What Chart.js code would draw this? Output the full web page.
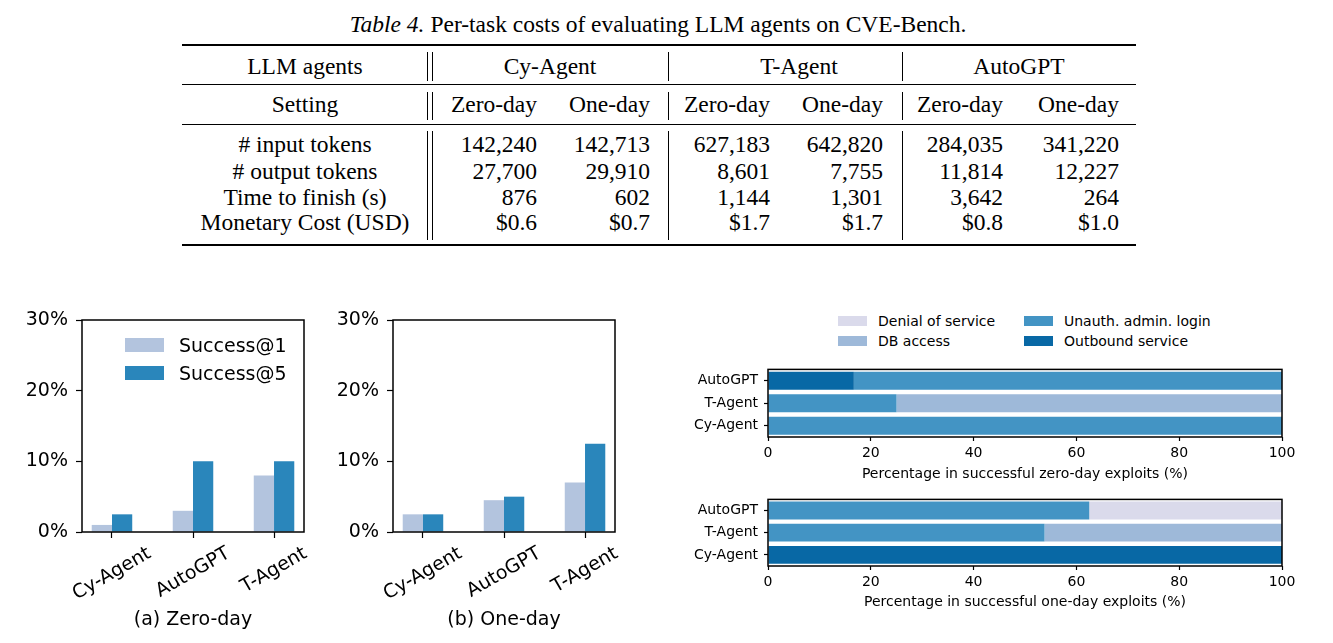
<!DOCTYPE html>
<html>
<head>
<meta charset="utf-8">
<script src="https://cdn.jsdelivr.net/npm/chart.js@4.4.1/dist/chart.umd.min.js"></script>
<style>
  html, body { margin: 0; padding: 0; background: #fff; }
  body { width: 1333px; height: 643px; position: relative; overflow: hidden; }
  .t { position: absolute; white-space: nowrap; font-family: "Liberation Serif", "Times New Roman", serif;
       font-size: 23.5px; line-height: 28px; color: #000; }
  .rule { position: absolute; background: #000; }
  .lg { position: absolute; white-space: nowrap; font-family: "DejaVu Sans", sans-serif; color: #000; }
  .sw { position: absolute; }
  canvas { position: absolute; }
</style>
</head>
<body>
<div id="tbl"></div>
<div id="legends"></div>
<canvas id="cZero" width="330" height="343" style="left:0;top:300px;width:330px;height:343px"></canvas>
<canvas id="cOne" width="300" height="343" style="left:330px;top:300px;width:300px;height:343px"></canvas>
<canvas id="cTypeZero" width="703" height="130" style="left:630px;top:355px;width:703px;height:130px"></canvas>
<canvas id="cTypeOne" width="703" height="130" style="left:630px;top:485px;width:703px;height:130px"></canvas>
<script>
// ---- table data ----
const tableAgents = ['Cy-Agent', 'T-Agent', 'AutoGPT'];
const tableSettings = ['Zero-day', 'One-day'];
const metricLabels = ['# input tokens', '# output tokens', 'Time to finish (s)', 'Monetary Cost (USD)'];
const inputTokens = ['142,240', '142,713', '627,183', '642,820', '284,035', '341,220'];
const outputTokens = ['27,700', '29,910', '8,601', '7,755', '11,814', '12,227'];
const timeToFinish = ['876', '602', '1,144', '1,301', '3,642', '264'];
const monetaryCost = ['$0.6', '$0.7', '$1.7', '$1.7', '$0.8', '$1.0'];

// ---- success rate bars (%) ----
const barAgents = ['Cy-Agent', 'AutoGPT', 'T-Agent'];
const zeroDaySuccess1 = [1.0, 3.0, 8.0];
const zeroDaySuccess5 = [2.5, 10.0, 10.0];
const oneDaySuccess1 = [2.5, 4.5, 7.0];
const oneDaySuccess5 = [2.5, 5.0, 12.5];
const pctTicks = [0, 10, 20, 30];

// ---- exploit type shares (%) ----
const stackAgents = ['AutoGPT', 'T-Agent', 'Cy-Agent'];
const zeroOutbound = [16.7, 0, 0];
const zeroUnauth = [83.3, 25.0, 100];
const zeroDb = [0, 75.0, 0];
const zeroDenial = [0, 0, 0];
const oneOutbound = [0, 0, 100];
const oneUnauth = [62.5, 53.8, 0];
const oneDb = [0, 46.2, 0];
const oneDenial = [37.5, 0, 0];
const shareTicks = [0, 20, 40, 60, 80, 100];

// Colours
const cS1 = '#b3c4de', cS5 = '#2a86bb';
const cDenial = '#dadaeb', cDb = '#9eb9d9', cUnauth = '#4394c4', cOutbound = '#0868a5';

/*
 * Table (plain HTML text)
 */
const tbl = document.getElementById('tbl');
function put(parent, cls, html, x, yc, align, lh) {
  const d = document.createElement('div');
  d.className = cls;
  d.innerHTML = html;
  d.style.left = x + 'px';
  d.style.top = (yc - (lh || 14)) + 'px';
  if (align === 'c') d.style.transform = 'translateX(-50%)';
  if (align === 'r') d.style.transform = 'translateX(-100%)';
  parent.appendChild(d);
  return d;
}
function rule(x, y, w, h) {
  const d = document.createElement('div');
  d.className = 'rule';
  Object.assign(d.style, {left: x + 'px', top: y + 'px', width: w + 'px', height: h + 'px'});
  tbl.appendChild(d);
}

put(tbl, 't', '<i>Table 4.</i> Per-task costs of evaluating LLM agents on CVE-Bench.', 658, 24, 'c');

const labelX = 305;
const colRight = [537, 650, 770, 883, 1003, 1119];
const groupX = [550, 799, 1019];
const rowY = [144, 170.5, 196.5, 222];

put(tbl, 't', 'LLM agents', labelX, 65.5, 'c');
tableAgents.forEach((a, i) => put(tbl, 't', a, groupX[i], 65.5, 'c'));
put(tbl, 't', 'Setting', labelX, 104, 'c');
colRight.forEach((x, i) => put(tbl, 't', tableSettings[i % 2], x, 104, 'r'));

const tableRows = [inputTokens, outputTokens, timeToFinish, monetaryCost];
tableRows.forEach((vals, r) => {
  put(tbl, 't', metricLabels[r], labelX, rowY[r], 'c');
  vals.forEach((v, i) => put(tbl, 't', v, colRight[i], rowY[r], 'r'));
});

rule(182, 44, 954, 2);
rule(182, 84, 954, 1);
rule(182, 124, 954, 1);
rule(182, 244, 954, 2);
[[52, 81], [92, 120], [131, 240]].forEach(([y0, y1]) => {
  [427, 432, 668, 902].forEach(x => rule(x, y0, 1, y1 - y0));
});

/*
 * Legends
 */
const lg = document.getElementById('legends');
function legendItem(color, text, bx, by, bw, bh, tx, fs) {
  const s = document.createElement('div');
  s.className = 'sw';
  Object.assign(s.style, {left: bx + 'px', top: by + 'px', width: bw + 'px', height: bh + 'px', background: color, zIndex: 2});
  lg.appendChild(s);
  const t = put(lg, 'lg', text, tx, by + bh / 2, '', fs * 0.6);
  t.style.fontSize = fs + 'px';
  t.style.lineHeight = (fs * 1.2) + 'px';
  t.style.zIndex = 2;
}
legendItem(cS1, 'Success@1', 125, 338, 39, 14, 179, 19);
legendItem(cS5, 'Success@5', 125, 366, 39, 14, 179, 19);
legendItem(cDenial, 'Denial of service', 838, 316, 29, 10, 878, 14);
legendItem(cDb, 'DB access', 838, 336, 29, 10, 878, 14);
legendItem(cUnauth, 'Unauth. admin. login', 1024, 316, 29, 10, 1064, 14);
legendItem(cOutbound, 'Outbound service', 1024, 336, 29, 10, 1064, 14);

/*
 * Charts
 */
Chart.defaults.font.family = '"DejaVu Sans", sans-serif';
Chart.defaults.color = '#000';
Chart.defaults.animation = false;

// full box around the plot area
const frame = {
  id: 'frame',
  afterDraw(chart, args, opts) {
    const {ctx, chartArea: a} = chart;
    ctx.save();
    ctx.strokeStyle = '#000';
    ctx.lineWidth = opts.width || 1.5;
    ctx.strokeRect(a.left, a.top, a.right - a.left, a.bottom - a.top);
    ctx.restore();
  }
};

// rotated category labels centred under each tick
const rotatedLabels = {
  id: 'rotatedLabels',
  afterDraw(chart, args, opts) {
    if (!opts.labels) return;
    const {ctx} = chart;
    const x = chart.scales.x;
    const ang = 30 * Math.PI / 180;
    ctx.save();
    ctx.font = '19px "DejaVu Sans"';
    ctx.fillStyle = '#000';
    ctx.textAlign = 'center';
    ctx.textBaseline = 'middle';
    opts.labels.forEach((lab, i) => {
      const w = ctx.measureText(lab).width;
      const bh = w * Math.sin(ang) + 22 * Math.cos(ang);
      ctx.save();
      ctx.translate(x.getPixelForValue(i), chart.chartArea.bottom + 10.6 + bh / 2);
      ctx.rotate(-ang);
      ctx.fillText(lab, 0, 0);
      ctx.restore();
    });
    ctx.restore();
  }
};

function successChart(id, caption, s1, s5, yWidth, padRight) {
  return new Chart(document.getElementById(id), {
    type: 'bar',
    data: {
      datasets: [
        {label: 'Success@1', backgroundColor: cS1, data: barAgents.map((a, i) => ({x: i, y: s1[i]}))},
        {label: 'Success@5', backgroundColor: cS5, data: barAgents.map((a, i) => ({x: i, y: s5[i]}))}
      ]
    },
    options: {
      responsive: false,
      categoryPercentage: 0.5,
      barPercentage: 1.0,
      layout: {padding: {left: 0, top: 20, right: padRight, bottom: 0}},
      plugins: {legend: {display: false}, tooltip: {enabled: false}, rotatedLabels: {labels: barAgents}},
      scales: {
        x: {
          type: 'linear', offset: false, min: -0.37, max: barAgents.length - 1 + 0.37,
          border: {display: false},
          grid: {offset: false, drawOnChartArea: false, color: '#000', tickLength: 6, tickWidth: 1.2},
          ticks: {stepSize: 1, includeBounds: false, callback: () => ''},
          title: {display: true, text: caption, font: {size: 19}, padding: {top: 0, bottom: 11.6}},
          afterFit: s => { s.height = 111; }
        },
        y: {
          min: pctTicks[0], max: pctTicks[pctTicks.length - 1],
          border: {display: false},
          grid: {drawOnChartArea: false, color: '#000', tickLength: 6, tickWidth: 1.2},
          ticks: {stepSize: pctTicks[1] - pctTicks[0], padding: 8, font: {size: 19}, callback: v => v + '%'},
          afterFit: s => { s.width = yWidth; }
        }
      }
    },
    plugins: [frame, rotatedLabels]
  });
}

function typeChart(id, caption, outbound, unauth, db, denial, padTop, xHeight, titlePad) {
  return new Chart(document.getElementById(id), {
    type: 'bar',
    data: {
      labels: stackAgents,
      datasets: [
        {label: 'Outbound service', backgroundColor: cOutbound, data: outbound},
        {label: 'Unauth. admin. login', backgroundColor: cUnauth, data: unauth},
        {label: 'DB access', backgroundColor: cDb, data: db},
        {label: 'Denial of service', backgroundColor: cDenial, data: denial}
      ]
    },
    options: {
      responsive: false,
      indexAxis: 'y',
      categoryPercentage: 1.0,
      barPercentage: 0.8,
      layout: {padding: {left: 0, top: padTop, right: 51, bottom: 0}},
      plugins: {legend: {display: false}, tooltip: {enabled: false}, frame: {width: 1.5}},
      scales: {
        x: {
          stacked: true, min: shareTicks[0], max: shareTicks[shareTicks.length - 1],
          border: {display: false},
          grid: {drawOnChartArea: false, color: '#000', tickLength: 4, tickWidth: 1.2},
          ticks: {stepSize: shareTicks[1] - shareTicks[0], padding: 4, font: {size: 14}},
          title: {display: true, text: caption, font: {size: 14}, padding: {top: 0, bottom: titlePad}},
          afterFit: s => { s.height = xHeight; }
        },
        y: {
          stacked: true,
          border: {display: false},
          grid: {drawOnChartArea: false, offset: false, color: '#000', tickLength: 4, tickWidth: 1.2},
          ticks: {padding: 6, font: {size: 14}},
          afterFit: s => { s.width = 138; }
        }
      }
    },
    plugins: [frame]
  });
}

successChart('cZero', '(a) Zero-day', zeroDaySuccess1, zeroDaySuccess5, 82, 26);
successChart('cOne', '(b) One-day', oneDaySuccess1, oneDaySuccess5, 63, 15);
typeChart('cTypeZero', 'Percentage in successful zero-day exploits (%)',
  zeroOutbound, zeroUnauth, zeroDb, zeroDenial, 8, 48, 2.6);
typeChart('cTypeOne', 'Percentage in successful one-day exploits (%)',
  oneOutbound, oneUnauth, oneDb, oneDenial, 5, 49, 4.6);
</script>
</body>
</html>
